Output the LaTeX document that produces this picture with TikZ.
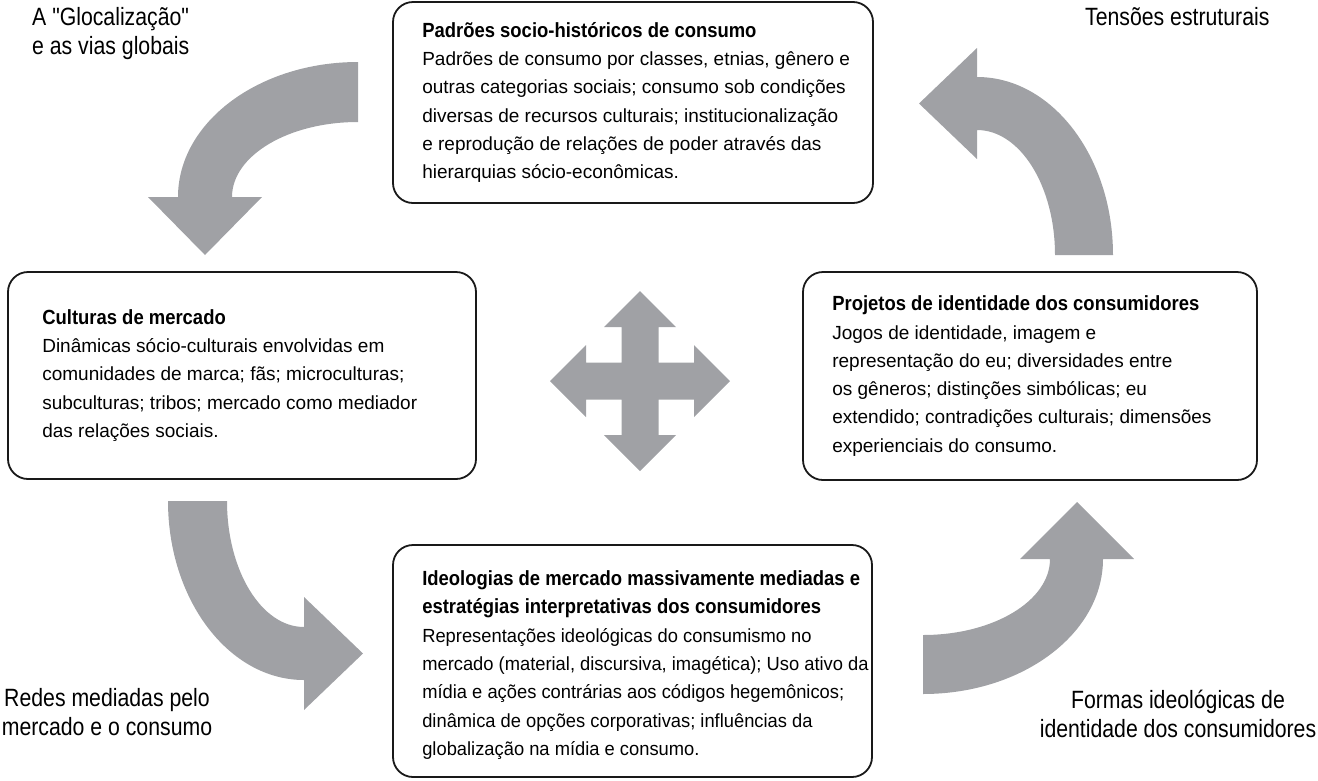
\documentclass[tikz,border=0pt]{standalone}
\usepackage{fontspec}
\setmainfont{Liberation Sans}[BoldFeatures={FakeStretch=0.9}]
\newfontfamily\rotulofont{Liberation Sans}[FakeStretch=0.85]
\newfontfamily\estreitafont{Liberation Sans}[FakeStretch=0.965, BoldFeatures={FakeStretch=0.9}]
\newcommand{\titulo}[1]{{\fontsize{20.5pt}{28.3pt}\selectfont\bfseries #1}}
\usetikzlibrary{positioning}
\definecolor{cinzaseta}{RGB}{160,161,165}
\tikzset{
  caixa/.style={draw=black!90, line width=1.8pt, rounded corners=20pt},
  texto/.style={align=left, inner sep=0pt, font=\fontsize{19pt}{28.3pt}\selectfont},
  rotulo/.style={inner sep=0pt, font=\rotulofont\fontsize{25pt}{29pt}\selectfont},
  seta/.style={fill=cinzaseta}
}

\begin{document}
\begin{tikzpicture}[x=1pt, y=-1pt]
  \useasboundingbox (0,0) rectangle (1318,780);
  % Nodes
  \node[caixa, minimum width=480pt, minimum height=201pt] (padroes) at (633,102.5) {};
  \node[texto, right=30pt of padroes.west] (padroesT) {\titulo{Padrões socio-históricos de consumo}\\
    Padrões de consumo por classes, etnias, gênero e\\
    outras categorias sociais; consumo sob condições\\
    diversas de recursos culturais; institucionalização\\
    e reprodução de relações de poder através das\\
    hierarquias sócio-econômicas.};
  \node[caixa, minimum width=468pt, minimum height=207pt] (culturas) at (242,375.5) {};
  \node[texto, right=35pt of culturas.west] (culturasT) {\titulo{Culturas de mercado}\\
    Dinâmicas sócio-culturais envolvidas em\\
    comunidades de marca; fãs; microculturas;\\
    subculturas; tribos; mercado como mediador\\
    das relações sociais.};
  \node[caixa, minimum width=454pt, minimum height=208pt] (projetos) at (1030,376) {};
  \node[texto, right=30pt of projetos.west] (projetosT) {\titulo{Projetos de identidade dos consumidores}\\
    Jogos de identidade, imagem e\\
    representação do eu; diversidades entre\\
    os gêneros; distinções simbólicas; eu\\
    extendido; contradições culturais; dimensões\\
    experienciais do consumo.};
  \node[caixa, minimum width=479pt, minimum height=232pt] (ideologias) at (632.5,661) {};
  \node[texto, font={\estreitafont\fontsize{19pt}{28.3pt}\selectfont}, right=30pt of ideologias.west, yshift=-4pt] (ideologiasT) {\titulo{Ideologias de mercado massivamente mediadas e}\\
    \titulo{estratégias interpretativas dos consumidores}\\
    Representações ideológicas do consumismo no\\
    mercado (material, discursiva, imagética); Uso ativo da\\
    mídia e ações contrárias aos códigos hegemônicos;\\
    dinâmica de opções corporativas; influências da\\
    globalização na mídia e consumo.};
  % Labels
  \node[rotulo, align=left, anchor=base west] (glocal) at (32,54) {A "Glocalização"\\e as vias globais};
  \node[rotulo, anchor=base west] (tensoes) at (1085,25) {Tensões estruturais};
  \node[rotulo, align=center, anchor=base] (redes) at (107,735) {Redes mediadas pelo\\mercado e o consumo};
  \node[rotulo, align=center, anchor=base] (formas) at (1178,737) {Formas ideológicas de\\identidade dos consumidores};
  % Arrows
  \coordinate (eixoA) at (358,197);
  \coordinate (eixoB) at (977,255);
  \coordinate (eixoC) at (304,501);
  \coordinate (eixoD) at (923,559);
  \coordinate (centro) at (640,381);
  \fill[seta, shift={(eixoA)}] (0,-135) arc[start angle=270, end angle=180, x radius=180, y radius=135]
    -- (-210,0) -- (-153,58) -- (-96,0) -- (-126,0)
    arc[start angle=180, end angle=270, x radius=126, y radius=75] -- cycle;
  \fill[seta, shift={(eixoB)}] (136,0) arc[start angle=0, end angle=-90, x radius=136, y radius=178]
    -- (0,-207) -- (-58,-151.5) -- (0,-96) -- (0,-125)
    arc[start angle=-90, end angle=0, x radius=78, y radius=125] -- cycle;
  \fill[seta, shift={(eixoC)}] (-136,0) arc[start angle=180, end angle=90, x radius=136, y radius=179]
    -- (0,209) -- (59,152.5) -- (0,96) -- (0,126)
    arc[start angle=90, end angle=180, x radius=77, y radius=126] -- cycle;
  \fill[seta, shift={(eixoD)}] (0,135) arc[start angle=90, end angle=0, x radius=180, y radius=135]
    -- (211,0) -- (154,-57) -- (97,0) -- (127,0)
    arc[start angle=0, end angle=90, x radius=127, y radius=76] -- cycle;
  \fill[seta, shift={(centro)}] (-18.5,-54) -- (-36,-54) -- (0,-90) -- (36,-54) -- (18.5,-54)
    -- (18.5,-18.5) -- (54,-18.5) -- (54,-36) -- (90,0) -- (54,36) -- (54,18.5)
    -- (18.5,18.5) -- (18.5,54) -- (36,54) -- (0,90) -- (-36,54) -- (-18.5,54)
    -- (-18.5,18.5) -- (-54,18.5) -- (-54,36) -- (-90,0) -- (-54,-36) -- (-54,-18.5)
    -- (-18.5,-18.5) -- cycle;
\end{tikzpicture}
\end{document}
